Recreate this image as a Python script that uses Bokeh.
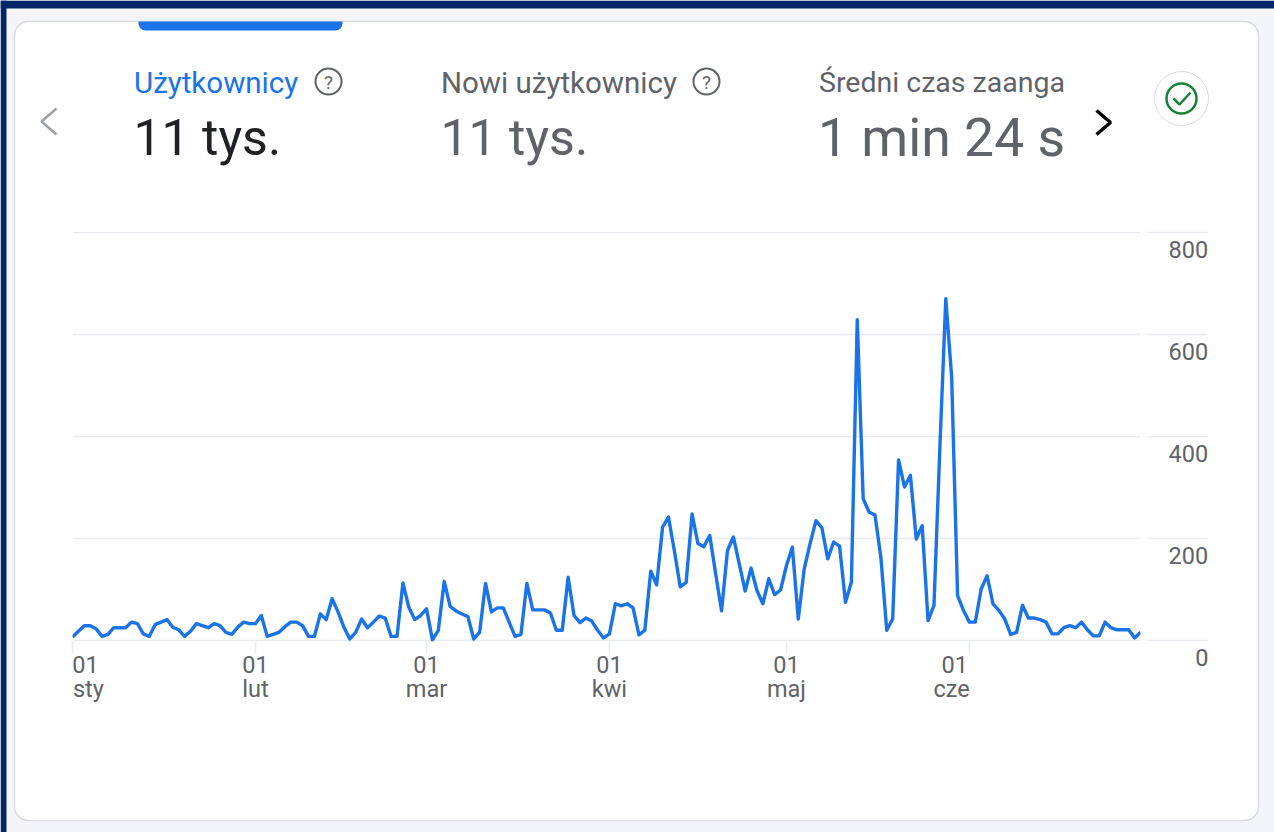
from bokeh.plotting import figure
from bokeh.embed import file_html
from bokeh.resources import INLINE
from bokeh.models import Range1d, LinearAxis, FixedTicker, Label, BoxAnnotation, PolyAnnotation

# Daily users, 1 Jan - 30 Jun
sty = [7,18,29,29,23,8,12,25,25,25,36,33,13,8,31,36,41,26,21,8,18,33,29,25,33,29,16,12,26,36,33]
lut = [33,49,8,12,16,27,36,36,29,8,8,52,41,82,56,26,3,16,42,25,36,48,44,8,8,113,65,41,49]
mar = [62,1,20,116,67,58,52,47,3,16,112,56,64,64,36,8,12,112,60,60,60,54,20,20,124,49,35,44,38,20,5]
kwi = [13,72,68,72,64,11,20,136,109,222,242,176,105,114,248,190,184,206,131,58,176,203,150,97,142,98,72,121,90,99]
maj = [147,183,42,140,190,235,221,160,193,185,75,114,629,278,252,246,163,20,42,354,301,324,199,225,39,69,379,670,516,88,59]
cze = [36,36,101,127,72,59,42,12,16,69,44,44,41,36,13,13,25,29,25,36,21,9,9,36,25,21,21,21,5,16]
users = sty + lut + mar + kwi + maj + cze
days = list(range(len(users)))

y_ticks = [0, 200, 400, 600, 800]
month_ticks = [0, 31, 60, 91, 121, 152]
day_label_pos = [2.2, 31, 60, 91, 121, 149.5]
day_labels = ["01", "01", "01", "01", "01", "01"]
month_label_pos = [2.7, 31, 60, 91, 121, 149]
month_labels = ["sty", "lut", "mar", "kwi", "maj", "cze"]

BLUE = "#1a73e8"
GREY = "#5f6368"
LINE = "#e8eaed"
NAVY = "#02256a"
PAGE = "#f4f5f9"
W, H = 1274, 832

# ---- background figure: page, card, header texts and icons (its frame is the whole canvas)
bg = figure(width=W, height=H, output_backend="svg", toolbar_location=None,
            x_range=Range1d(0, W), y_range=Range1d(H, 0),
            x_axis_location=None, y_axis_location=None,
            min_border_left=0, min_border_right=0, min_border_top=0, min_border_bottom=0,
            border_fill_color=PAGE, background_fill_color=PAGE, outline_line_color=None)
bg.xgrid.visible = False
bg.ygrid.visible = False

def box(x0, y0, x1, y1, fill=None, line=None, lw=1.0, radius=0):
    bg.add_layout(BoxAnnotation(left=x0, right=x1, top=y0, bottom=y1,
                                left_units="canvas", right_units="canvas", top_units="canvas", bottom_units="canvas",
                                fill_color=fill, fill_alpha=1 if fill else 0,
                                line_color=line, line_alpha=1 if line else 0, line_width=lw,
                                border_radius=radius, editable=False))

def stroke(xs, ys, color, lw):
    xx = list(xs) + list(xs)[-2:0:-1]
    yy = list(ys) + list(ys)[-2:0:-1]
    bg.add_layout(PolyAnnotation(xs=xx, ys=yy, xs_units="canvas", ys_units="canvas",
                                 fill_alpha=0, line_color=color, line_alpha=1, line_width=lw))

def text(x, y, s, size, color, align="left"):
    bg.add_layout(Label(x=x, y=y, x_units="canvas", y_units="canvas", text=s,
                        text_font="Roboto", text_font_size=f"{size}px", text_color=color,
                        text_align=align, text_baseline="middle"))

box(0, 0, 6, H, fill=NAVY)
box(0, 0, W, 8, fill=NAVY)
box(14, 21, 1258, 820, fill="#ffffff", line="#dadce0", lw=1.5, radius=14)
box(138, 21, 342, 30, fill=BLUE, radius=dict(top_left=0, top_right=0, bottom_left=7, bottom_right=7))

text(133.5, 82, "Użytkownicy", 29.5, BLUE)
text(133, 137, "11 tys.", 50, "#202124")
text(440.5, 82, "Nowi użytkownicy", 29.5, GREY)
text(440, 137, "11 tys.", 50, GREY)
text(818.5, 82, "Średni czas zaanga", 28.5, GREY)
text(817.5, 137, "1 min 24 s", 53.5, GREY)
text(1208, 657, str(y_ticks[0]), 23.5, GREY, align="right")

for cx in (328, 706):
    box(cx - 13, 68, cx + 13, 94, line=GREY, lw=2, radius=13)
    text(cx, 81.5, "?", 19, GREY, align="center")

stroke([56, 41, 56], [108, 121, 134], "#9aa0a6", 2.5)
stroke([1096, 1110, 1096], [110, 122, 134], "#000000", 3.5)

box(1154, 71, 1208, 125, fill="#ffffff", line="#dadce0", lw=1, radius=27)
box(1166, 83, 1196, 113, line="#188038", lw=2.5, radius=15)
stroke([1173, 1179, 1190], [98, 104, 92], "#188038", 2.5)

# ---- chart figure, laid transparently over the background
p = figure(width=W, height=H, output_backend="svg", toolbar_location=None,
           x_range=Range1d(0, 181), y_range=Range1d(-2, 802),
           x_axis_location=None, y_axis_location=None,
           min_border_left=72, min_border_top=231, min_border_right=134, min_border_bottom=191,
           border_fill_color=None, background_fill_color=None, outline_line_color=None,
           margin=(-H, 0, 0, 0))
p.xgrid.visible = False
p.ygrid.ticker = FixedTicker(ticks=y_ticks)
p.ygrid.grid_line_color = LINE
p.ygrid.grid_line_width = 1.5

p.line(days, users, line_color=BLUE, line_width=3.4, line_join="round")

# right: value labels sit just below their gridlines, so they read from a shifted range
p.extra_y_ranges = {"labels": Range1d(31, 835)}
ylab = LinearAxis(y_range_name="labels", ticker=FixedTicker(ticks=y_ticks[1:]),
                  axis_line_color=None, major_tick_line_color=None, minor_tick_line_color=None,
                  major_tick_in=0, major_tick_out=0, major_label_standoff=28,
                  major_label_text_font="Roboto", major_label_text_font_size="23.5px",
                  major_label_text_color=GREY)
p.add_layout(ylab, "right")

# right: stubs continuing the gridlines after a small gap
stub = LinearAxis(ticker=FixedTicker(ticks=y_ticks), axis_line_color=None,
                  major_tick_line_color=LINE, major_tick_line_width=1.5,
                  major_tick_in=64, major_tick_out=-4, minor_tick_line_color=None,
                  major_label_overrides={t: "" for t in y_ticks}, major_label_standoff=0)
p.add_layout(stub, "right")

# bottom: month-start tick marks, then day and month labels
xstub = LinearAxis(ticker=FixedTicker(ticks=month_ticks), axis_line_color=None,
                   major_tick_line_color=LINE, major_tick_line_width=1.5,
                   major_tick_in=0, major_tick_out=12, minor_tick_line_color=None,
                   major_label_overrides={t: "" for t in month_ticks}, major_label_standoff=0)
p.add_layout(xstub, "below")

def label_axis(positions, labels, standoff):
    a = LinearAxis(ticker=FixedTicker(ticks=positions), axis_line_color=None,
                   major_tick_line_color=None, minor_tick_line_color=None,
                   major_tick_in=0, major_tick_out=0, major_label_standoff=standoff,
                   major_label_overrides=dict(zip(positions, labels)),
                   major_label_text_font="Roboto", major_label_text_font_size="23.5px",
                   major_label_text_color=GREY)
    p.add_layout(a, "below")

label_axis(day_label_pos, day_labels, 2)
label_axis(month_label_pos, month_labels, -1)

open("out.html", "w").write(file_html([bg, p], INLINE))
